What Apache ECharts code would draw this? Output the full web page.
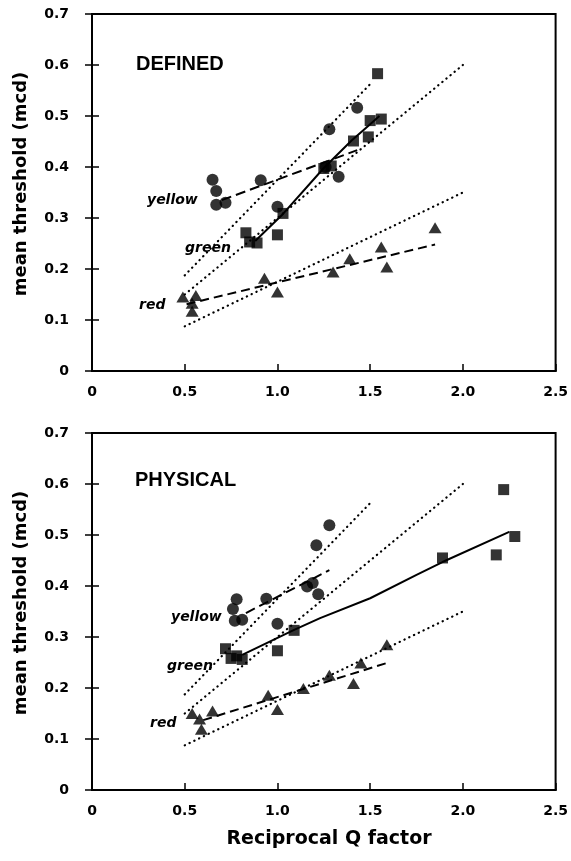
<!DOCTYPE html>
<html><head><meta charset="utf-8">
<script src="https://cdn.jsdelivr.net/npm/echarts@6/dist/echarts.min.js"></script>
<style>html,body{margin:0;padding:0;background:#fff}#c{width:571px;height:861px}</style>
</head><body><div id="c"></div>
<script>
// ---- axis ticks ----
const xTicks = [0, 0.5, 1.0, 1.5, 2.0, 2.5];
const yTicks = [0, 0.1, 0.2, 0.3, 0.4, 0.5, 0.6, 0.7];

// ---- DEFINED panel ----
const defYellowX = [0.65, 0.67, 0.67, 0.72, 0.91, 1.00, 1.26, 1.28, 1.33, 1.43];
const defYellowY = [0.375, 0.353, 0.326, 0.330, 0.374, 0.322, 0.400, 0.474, 0.381, 0.516];
const defGreenX = [0.83, 0.85, 0.89, 1.00, 1.03, 1.25, 1.29, 1.41, 1.49, 1.50, 1.56, 1.54];
const defGreenY = [0.271, 0.253, 0.251, 0.267, 0.309, 0.397, 0.402, 0.451, 0.459, 0.491, 0.494, 0.583];
const defRedX = [0.49, 0.56, 0.54, 0.54, 0.93, 1.00, 1.30, 1.39, 1.56, 1.59, 1.85];
const defRedY = [0.145, 0.148, 0.133, 0.117, 0.182, 0.155, 0.194, 0.220, 0.243, 0.204, 0.281];
const defYellowFitX = [0.70, 1.43];
const defYellowFitY = [0.335, 0.433];
const defGreenFitX = [0.88, 1.03, 1.25, 1.40, 1.50, 1.55];
const defGreenFitY = [0.255, 0.308, 0.398, 0.452, 0.484, 0.500];
const defRedFitX = [0.51, 1.85];
const defRedFitY = [0.131, 0.248];

// ---- PHYSICAL panel ----
const phyYellowX = [0.78, 0.76, 0.77, 0.81, 0.94, 1.00, 1.16, 1.19, 1.21, 1.22, 1.28];
const phyYellowY = [0.374, 0.355, 0.332, 0.334, 0.375, 0.326, 0.399, 0.406, 0.480, 0.384, 0.519];
const phyGreenX = [0.72, 0.75, 0.78, 0.81, 1.00, 1.09, 1.89, 2.18, 2.22, 2.28];
const phyGreenY = [0.277, 0.258, 0.263, 0.256, 0.273, 0.313, 0.455, 0.461, 0.589, 0.497];
const phyRedX = [0.54, 0.58, 0.59, 0.65, 0.95, 1.00, 1.14, 1.28, 1.41, 1.45, 1.59];
const phyRedY = [0.150, 0.139, 0.119, 0.155, 0.186, 0.158, 0.199, 0.225, 0.209, 0.249, 0.285];
const phyYellowFitX = [0.83, 1.28];
const phyYellowFitY = [0.347, 0.431];
const phyGreenFitX = [0.81, 1.09, 1.23, 1.50, 1.75, 1.89, 2.25];
const phyGreenFitY = [0.265, 0.314, 0.337, 0.376, 0.422, 0.447, 0.506];
const phyRedFitX = [0.60, 1.59];
const phyRedFitY = [0.137, 0.249];

// ---- reference (dotted) lines, same in both panels ----
const refYellowX = [0.5, 1.5];
const refYellowY = [0.1875, 0.5625];
const refGreenX = [0.5, 2.0];
const refGreenY = [0.15, 0.60];
const refRedX = [0.5, 2.0];
const refRedY = [0.0875, 0.35];

const zip = (xs, ys) => xs.map((x, i) => [x, ys[i]]);
const SANS = '"Liberation Sans", Arial, sans-serif';
const WIDE = '"DejaVu Sans", sans-serif';
const fmt = v => (v === 0 ? '0' : v.toFixed(1));

const gridTops = [14, 433];
const grids = gridTops.map(t => ({left: 92, width: 464, top: t, height: 357,
  show: true, borderColor: '#000', borderWidth: 2, backgroundColor: 'transparent'}));

const xAxes = [], yAxes = [];
[0, 1].forEach(g => {
  xAxes.push({type: 'value', gridIndex: g, min: xTicks[0], max: xTicks[xTicks.length - 1], interval: 0.5,
    axisLine: {show: true, onZero: false, lineStyle: {color: '#000', width: 2}},
    axisTick: {show: true, inside: true, length: 7, lineStyle: {color: '#000', width: 1.5}},
    axisLabel: {formatter: fmt, color: '#000', fontFamily: WIDE, fontWeight: 'bold', fontSize: 14, margin: 14},
    splitLine: {show: false}});
  yAxes.push({type: 'value', gridIndex: g, min: yTicks[0], max: yTicks[yTicks.length - 1], interval: 0.1,
    axisLine: {show: true, onZero: false, lineStyle: {color: '#000', width: 2}},
    axisTick: {show: true, inside: true, length: 7, lineStyle: {color: '#000', width: 1.5}},
    axisLabel: {formatter: fmt, color: '#000', fontFamily: WIDE, fontWeight: 'bold', fontSize: 14, margin: 23},
    splitLine: {show: false}});
  yAxes.push({type: 'value', gridIndex: g, position: 'right', min: yTicks[0], max: yTicks[yTicks.length - 1], interval: 0.1,
    axisLine: {show: true, lineStyle: {color: '#000', width: 2}},
    axisTick: {show: true, inside: true, length: 7, lineStyle: {color: '#000', width: 1.5}},
    axisLabel: {show: false}, splitLine: {show: false}});
});

const series = [];
function addPanel(g, d) {
  const yi = g * 2;
  const ref = (xs, ys) => ({type: 'line', xAxisIndex: g, yAxisIndex: yi, data: zip(xs, ys), showSymbol: false, silent: true,
    lineStyle: {color: '#000', width: 2.2, type: [0.3, 5], cap: 'round'}, z: 1});
  series.push(ref(refYellowX, refYellowY), ref(refGreenX, refGreenY), ref(refRedX, refRedY));
  const fit = (xs, ys, type) => ({type: 'line', xAxisIndex: g, yAxisIndex: yi, data: zip(xs, ys), showSymbol: false, silent: true,
    lineStyle: {color: '#000', width: 2, type: type}, z: 2});
  series.push(fit(d.yfx, d.yfy, [10, 5]), fit(d.gfx, d.gfy, 'solid'), fit(d.rfx, d.rfy, [9, 5]));
  const sc = (xs, ys, sym, size) => ({type: 'scatter', xAxisIndex: g, yAxisIndex: yi, data: zip(xs, ys),
    symbol: sym, symbolSize: size, itemStyle: {color: '#000'}, z: 3});
  series.push(sc(d.yx, d.yy, 'circle', 12), sc(d.gx, d.gy, 'rect', 11), sc(d.rx, d.ry, 'triangle', [13, 11]));
}
addPanel(0, {yx: defYellowX, yy: defYellowY, gx: defGreenX, gy: defGreenY, rx: defRedX, ry: defRedY,
  yfx: defYellowFitX, yfy: defYellowFitY, gfx: defGreenFitX, gfy: defGreenFitY, rfx: defRedFitX, rfy: defRedFitY});
addPanel(1, {yx: phyYellowX, yy: phyYellowY, gx: phyGreenX, gy: phyGreenY, rx: phyRedX, ry: phyRedY,
  yfx: phyYellowFitX, yfy: phyYellowFitY, gfx: phyGreenFitX, gfy: phyGreenFitY, rfx: phyRedFitX, rfy: phyRedFitY});

const txt = (x, y, s, font, align, rot) => ({type: 'text', x: x, y: y, rotation: rot || 0,
  style: {text: s, fill: '#000', font: font, align: align || 'left', verticalAlign: 'middle'}});
const graphic = [
  txt(136, 64, 'DEFINED', 'bold 20px ' + SANS),
  txt(147, 200, 'yellow', 'italic bold 14px ' + WIDE),
  txt(185, 248, 'green', 'italic bold 14px ' + WIDE),
  txt(139, 305, 'red', 'italic bold 14px ' + WIDE),
  txt(135, 480, 'PHYSICAL', 'bold 20px ' + SANS),
  txt(171, 617, 'yellow', 'italic bold 14px ' + WIDE),
  txt(167, 666, 'green', 'italic bold 14px ' + WIDE),
  txt(150, 723, 'red', 'italic bold 14px ' + WIDE),
  txt(21, 184, 'mean threshold (mcd)', 'bold 18px ' + WIDE, 'center', Math.PI / 2),
  txt(21, 603, 'mean threshold (mcd)', 'bold 18px ' + WIDE, 'center', Math.PI / 2),
  txt(329, 839, 'Reciprocal Q factor', 'bold 19px ' + WIDE, 'center')
];

const chart = echarts.init(document.getElementById('c'), null, {renderer: 'canvas'});
chart.setOption({animation: false, backgroundColor: '#fff', grid: grids, xAxis: xAxes, yAxis: yAxes, series: series, graphic: graphic});
</script></body></html>
